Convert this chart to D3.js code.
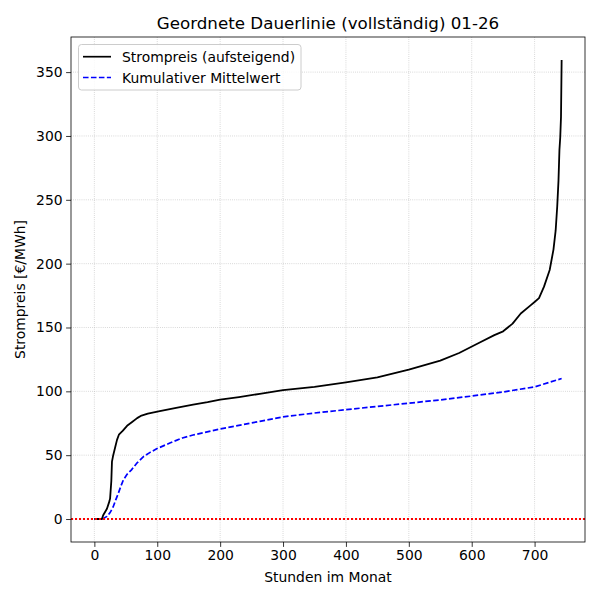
<!DOCTYPE html>
<html>
<head>
<meta charset="utf-8">
<script src="https://cdn.jsdelivr.net/npm/d3@7"></script>
<style>
  body { margin: 0; background: #fff; }
  text { font-family: "DejaVu Sans", sans-serif; fill: #000; }
</style>
</head>
<body>
<script>
// Dauerlinie Januar: sortierte Preise (Stunde, Preis) und kumulativer Mittelwert
const priceHours  = [0, 12, 14, 20, 24, 25, 27, 28, 30, 33, 36, 39, 45, 52, 60, 68, 75, 85, 104, 130, 157, 180, 200, 230, 263, 300, 350, 400, 450, 500, 550, 580, 612, 636, 650, 665, 678, 694, 700, 707, 715, 724, 730, 733.5, 736, 738, 739.5, 740.8, 742, 743];
const priceValues = [0, 0, 3, 8, 14, 16, 30, 45, 50, 56, 62, 66, 69, 73, 76, 79, 81, 82.5, 84.5, 87, 89.5, 91.5, 93.5, 95.5, 98, 101, 103.5, 107, 111, 117, 124, 130, 138, 144, 147, 153, 161, 167.5, 170, 173, 182, 195, 211, 226, 245, 265, 289, 299, 315, 359.5];

const meanHours  = [0, 13, 20, 25, 30, 34, 38, 42, 46, 52, 59, 68, 78, 88, 99, 120, 140, 157, 200, 263, 300, 350, 400, 450, 500, 550, 600, 650, 700, 743];
const meanValues = [0, 0, 2, 5, 9.6, 15, 20, 25.5, 30.5, 35, 38.5, 44, 48.8, 52, 55, 59.5, 63.5, 65.8, 70.5, 76.5, 80, 83, 85.6, 88.2, 90.7, 93.3, 96.3, 99.5, 103.5, 110];

const xTicks = [0, 100, 200, 300, 400, 500, 600, 700];
const yTicks = [0, 50, 100, 150, 200, 250, 300, 350];

const W = 600, H = 600;
const mLeft = 71, mRight = 585, mTop = 37, mBottom = 542;

const svg = d3.select('body').append('svg')
  .attr('width', W).attr('height', H);

const x = d3.scaleLinear().domain([-37.15, 780.15]).range([mLeft, mRight]);
const y = d3.scaleLinear().domain([-18, 377.5]).range([mBottom, mTop]);

// Gitter
const grid = svg.append('g');
xTicks.forEach(t => {
  grid.append('line')
    .attr('x1', x(t)).attr('x2', x(t)).attr('y1', mTop).attr('y2', mBottom)
    .attr('stroke', '#b0b0b0').attr('stroke-opacity', 0.75)
    .attr('stroke-width', 0.8).attr('stroke-dasharray', '0.8,1.32');
});
yTicks.forEach(t => {
  grid.append('line')
    .attr('x1', mLeft).attr('x2', mRight).attr('y1', y(t)).attr('y2', y(t))
    .attr('stroke', '#b0b0b0').attr('stroke-opacity', 0.75)
    .attr('stroke-width', 0.8).attr('stroke-dasharray', '0.8,1.32');
});

svg.append('clipPath').attr('id', 'clip')
  .append('rect').attr('x', mLeft).attr('y', mTop)
  .attr('width', mRight - mLeft).attr('height', mBottom - mTop);

const plot = svg.append('g').attr('clip-path', 'url(#clip)');

const line = d3.line().x(d => x(d[0])).y(d => y(d[1]));

const priceData = priceHours.map((h, i) => [h, priceValues[i]]);
const meanData = meanHours.map((h, i) => [h, meanValues[i]]);

plot.append('path')
  .datum(meanData)
  .attr('d', line)
  .attr('fill', 'none')
  .attr('stroke', '#0000ff')
  .attr('stroke-width', 1.7)
  .attr('stroke-dasharray', '5.55,2.4');

plot.append('path')
  .datum(priceData)
  .attr('d', line)
  .attr('fill', 'none')
  .attr('stroke', '#000')
  .attr('stroke-width', 1.8)
  .attr('stroke-linejoin', 'round');

// Nulllinie (auf ganze Pixel gesetzt, damit die Punkte kräftig rot bleiben)
const y0 = Math.round(y(0));
plot.append('line')
  .attr('x1', mLeft).attr('x2', mRight)
  .attr('y1', y0).attr('y2', y0)
  .attr('stroke', '#ff0000').attr('stroke-width', 2)
  .attr('stroke-dasharray', '2,2');

// Achsen
const xAxis = svg.append('g')
  .attr('transform', `translate(0,${mBottom})`)
  .call(d3.axisBottom(x).tickValues(xTicks).tickSize(4.9).tickPadding(3.5).tickFormat(d3.format('d')));
const yAxis = svg.append('g')
  .attr('transform', `translate(${mLeft},0)`)
  .call(d3.axisLeft(y).tickValues(yTicks).tickSize(4.9).tickPadding(3.5).tickFormat(d3.format('d')));

[xAxis, yAxis].forEach(a => {
  a.select('.domain').remove();
  a.selectAll('line').attr('stroke', '#000').attr('stroke-width', 0.8);
  a.selectAll('text').style('font-size', '13.9px').style('font-family', '"DejaVu Sans", sans-serif');
});

svg.append('rect')
  .attr('x', mLeft).attr('y', mTop)
  .attr('width', mRight - mLeft).attr('height', mBottom - mTop)
  .attr('fill', 'none').attr('stroke', '#000').attr('stroke-width', 0.8);

// Beschriftungen
svg.append('text')
  .attr('x', (mLeft + mRight) / 2).attr('y', 29)
  .attr('text-anchor', 'middle')
  .style('font-size', '16.7px')
  .text('Geordnete Dauerlinie (vollständig) 01-26');

svg.append('text')
  .attr('x', (mLeft + mRight) / 2).attr('y', 582)
  .attr('text-anchor', 'middle')
  .style('font-size', '13.9px')
  .text('Stunden im Monat');

svg.append('text')
  .attr('transform', `translate(25,${(mTop + mBottom) / 2}) rotate(-90)`)
  .attr('text-anchor', 'middle')
  .style('font-size', '13.9px')
  .text('Strompreis [€/MWh]');

// Legende
const legend = svg.append('g');
legend.append('rect')
  .attr('x', 78.5).attr('y', 44.5).attr('width', 222.5).attr('height', 45.5)
  .attr('rx', 3).attr('fill', '#fff').attr('fill-opacity', 0.8)
  .attr('stroke', '#cccccc').attr('stroke-width', 1);

const items = [
  {label: 'Strompreis (aufsteigend)', color: '#000', dash: null, y: 56.7},
  {label: 'Kumulativer Mittelwert', color: '#0000ff', dash: '5.55,2.4', y: 77.5}
];
items.forEach(it => {
  legend.append('line')
    .attr('x1', 83).attr('x2', 111).attr('y1', it.y).attr('y2', it.y)
    .attr('stroke', it.color).attr('stroke-width', 1.7)
    .attr('stroke-dasharray', it.dash);
  legend.append('text')
    .attr('x', 122).attr('y', it.y + 5)
    .style('font-size', '13.9px')
    .text(it.label);
});
</script>
</body>
</html>
